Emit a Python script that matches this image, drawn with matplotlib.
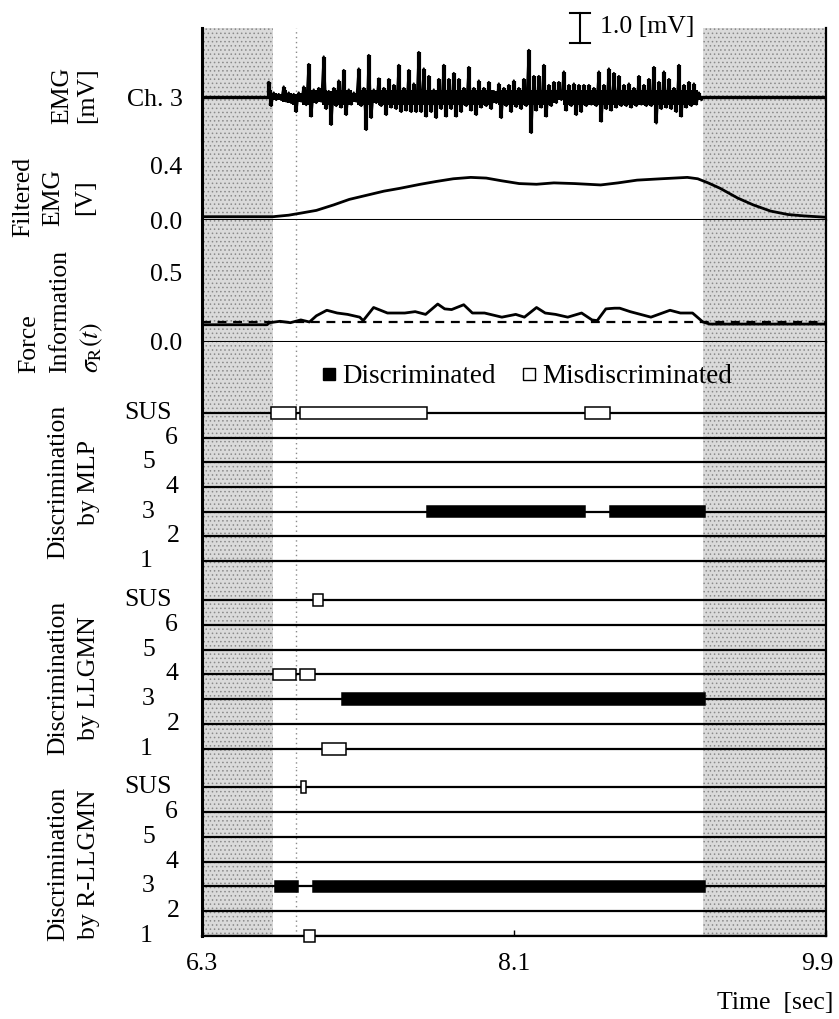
import numpy as np
import matplotlib.pyplot as plt
from matplotlib.lines import Line2D
from matplotlib.transforms import blended_transform_factory, ScaledTranslation

plt.rcParams['font.family'] = ['Liberation Serif', 'DejaVu Serif']
plt.rcParams['mathtext.fontset'] = 'stix'
plt.rcParams['hatch.linewidth'] = 0.6

# time axis [sec]
x_ticks = [6.3, 8.1, 9.9]
rest_spans = [(6.3, 6.71), (9.19, 9.9)]
marker_t = 6.84

# raw EMG ch.3 [mV]: upper / lower excursion of each sample
emg_on, emg_off = 6.692, 9.174
emg_hi = [0.5, 0.15, 0.1, 0.35, 0.15, 0.1, 0.15, 0.35, 1.1, 0.25,
          0.3, 1.35, 0.2, 0.3, 0.55, 0.9, 0.25, 0.15, 0.95, 0.3,
          1.4, 0.25, 0.62, 0.3, 0.6, 0.4, 1.07, 0.3, 0.9, 0.45,
          1.5, 0.95, 0.7, 0.25, 0.6, 1.07, 0.6, 0.8, 0.6, 0.3,
          1.0, 0.3, 0.55, 0.3, 0.5, 0.2, 0.45, 0.3, 0.4, 0.55,
          0.3, 0.6, 1.57, 0.7, 0.7, 1.07, 0.4, 0.5, 0.5, 0.85,
          0.4, 0.45, 0.4, 0.4, 0.4, 0.3, 0.85, 0.4, 0.95, 0.8,
          0.7, 0.4, 0.45, 0.3, 0.7, 0.4, 0.6, 1.0, 0.5, 0.85,
          0.6, 0.3, 1.07, 0.4, 0.5, 0.45, 0.15]
emg_lo = [-0.3, -0.1, -0.1, -0.15, -0.2, -0.5, -0.15, -0.27, -0.65, -0.2,
          -0.15, -0.4, -0.93, -0.3, -0.35, -0.6, -0.25, -0.15, -0.3, -1.1,
          -0.7, -0.2, -0.3, -0.6, -0.35, -0.4, -0.5, -0.45, -0.5, -0.5,
          -0.5, -0.65, -0.5, -0.7, -0.4, -0.65, -0.4, -0.65, -0.5, -0.3,
          -0.45, -0.6, -0.35, -0.3, -0.4, -0.2, -0.7, -0.3, -0.5, -0.33,
          -0.4, -0.3, -1.2, -0.45, -0.35, -0.65, -0.3, -0.2, -0.1, -0.45,
          -0.3, -0.6, -0.5, -0.3, -0.25, -0.3, -0.82, -0.4, -0.45, -0.35,
          -0.3, -0.3, -0.35, -0.3, -0.25, -0.3, -0.3, -0.88, -0.4, -0.35,
          -0.4, -0.5, -0.65, -0.35, -0.3, -0.25, -0.1]

# filtered EMG [V]
filt_t = [6.30, 6.71, 6.80, 6.87, 6.96, 7.06, 7.15, 7.25, 7.35, 7.44, 7.56, 7.65,
          7.75, 7.85, 7.94, 8.03, 8.13, 8.23, 8.33, 8.45, 8.60, 8.70, 8.81, 8.95,
          9.10, 9.16, 9.22, 9.29, 9.39, 9.48, 9.58, 9.68, 9.77, 9.90]
filt_v = [0.024, 0.024, 0.035, 0.05, 0.07, 0.11, 0.15, 0.18, 0.21, 0.23, 0.26, 0.28,
          0.30, 0.31, 0.305, 0.285, 0.265, 0.26, 0.27, 0.265, 0.255, 0.27, 0.29, 0.30,
          0.31, 0.30, 0.27, 0.23, 0.16, 0.11, 0.065, 0.04, 0.03, 0.02]

# force information sigma_R(t) and its threshold
force_t = [6.30, 6.675, 6.69, 6.75, 6.81, 6.87, 6.92, 6.96, 7.02, 7.08, 7.14, 7.21,
           7.23, 7.29, 7.37, 7.47, 7.53, 7.59, 7.66, 7.70, 7.74, 7.81, 7.86, 7.93,
           8.03, 8.11, 8.16, 8.23, 8.28, 8.34, 8.41, 8.49, 8.55, 8.58, 8.63, 8.68,
           8.71, 8.77, 8.89, 9.00, 9.06, 9.13, 9.19, 9.23, 9.42, 9.90]
force_v = [0.125, 0.125, 0.14, 0.15, 0.14, 0.16, 0.145, 0.19, 0.23, 0.21, 0.20, 0.18,
           0.155, 0.25, 0.21, 0.21, 0.22, 0.20, 0.275, 0.24, 0.235, 0.27, 0.21, 0.21,
           0.18, 0.20, 0.18, 0.25, 0.21, 0.20, 0.18, 0.21, 0.16, 0.155, 0.24, 0.245,
           0.245, 0.22, 0.18, 0.23, 0.21, 0.21, 0.145, 0.13, 0.13, 0.13]
force_thr = 0.145

classes = ['1', '2', '3', '4', '5', '6', 'SUS']
# (class, start, end, discriminated correctly)
mlp_seg = [('SUS', 6.70, 6.84, False), ('SUS', 6.865, 7.60, False),
           ('3', 7.60, 8.51, True), ('SUS', 8.51, 8.655, False),
           ('3', 8.655, 9.20, True)]
llgmn_seg = [('4', 6.71, 6.84, False), ('4', 6.865, 6.95, False),
             ('SUS', 6.94, 7.00, False), ('1', 6.99, 7.13, False),
             ('3', 7.11, 9.20, True)]
rllgmn_seg = [('3', 6.72, 6.855, True), ('SUS', 6.87, 6.90, False),
              ('1', 6.89, 6.95, False), ('3', 6.94, 9.20, True)]

W, H = 839, 1019
fig = plt.figure(figsize=(W / 100, H / 100), dpi=100)
fs = 18.5
L, R = 202, 826


def add_ax(top, bottom, ylim):
    ax = fig.add_axes([L / W, 1 - bottom / H, (R - L) / W, (bottom - top) / H])
    ax.set_xlim(6.3, 9.9)
    ax.set_ylim(*ylim)
    ax.set_xticks([])
    ax.spines['top'].set_visible(False)
    ax.spines['bottom'].set_visible(False)
    ax.spines['left'].set_linewidth(2.2)
    ax.spines['right'].set_linewidth(1.6)
    ax.tick_params(axis='y', length=0, pad=14, labelsize=fs)
    for a, b in rest_spans:
        ax.axvspan(a, b, facecolor='#dadada', edgecolor='#8a8a8a', hatch='....',
                   lw=0, zorder=0)
    ax.axvline(marker_t, color='#8a8a8a', ls=(0, (1, 2.5)), lw=1, zorder=1)
    return ax


ax_emg = add_ax(28, 140, (-1.433, 2.3))
ax_filt = add_ax(140, 220, (0, 0.582))
ax_force = add_ax(220, 342, (0, 0.884))
ax_mlp = add_ax(342, 580, (-0.77, 8.87))
ax_ll = add_ax(580, 768, (-0.765, 6.8))
ax_rl = add_ax(768, 936, (0, 6.77))

# raw EMG
n = len(emg_hi)
emg_t = np.linspace(emg_on, emg_off, n)
dt = emg_t[1] - emg_t[0]
tt = np.column_stack([emg_t - dt / 4, emg_t + dt / 4]).ravel()
vv = np.column_stack([emg_hi, emg_lo]).ravel()
ax_emg.axhline(0, color='k', lw=2.4, zorder=2)
ax_emg.plot(tt, vv, color='k', lw=1.6, zorder=3)
ax_emg.vlines(emg_t - dt / 4, 0, emg_hi, color='k', lw=3, zorder=3)
ax_emg.vlines(emg_t + dt / 4, emg_lo, 0, color='k', lw=3, zorder=3)
ax_emg.fill_between(emg_t, np.maximum(emg_lo, -0.25), np.minimum(emg_hi, 0.25),
                    step='mid', color='k', lw=0, zorder=3)
ax_emg.set_yticks([0], ['Ch. 3'])
# 1.0 mV scale bar
sb_t = 8.48
ax_emg.plot([sb_t, sb_t], [1.8, 2.8], color='k', lw=1.5, clip_on=False)
for yy in (1.8, 2.8):
    ax_emg.plot([sb_t - 0.058, sb_t + 0.058], [yy, yy], color='k', lw=1.5, clip_on=False)
ax_emg.text(sb_t + 0.115, 2.33, '1.0 [mV]', fontsize=fs, ha='left', va='center')

# filtered EMG
ax_filt.axhline(0, color='k', lw=2.2, zorder=2)
ax_filt.plot(filt_t, filt_v, color='k', lw=2, zorder=3)
ax_filt.set_yticks([0.0, 0.4], ['0.0', '0.4'])

# force information
ax_force.axhline(0, color='k', lw=2.2, zorder=2)
ax_force.axhline(force_thr, color='k', lw=1.6, ls=(0, (4, 3)), zorder=2)
ax_force.plot(force_t, force_v, color='k', lw=2, zorder=3)
ax_force.set_yticks([0.0, 0.5], ['0.0', '0.5'])

# discrimination results
label_right = [153, 180, 155, 178, 155, 178, 172]
for ax, segs in [(ax_mlp, mlp_seg), (ax_ll, llgmn_seg), (ax_rl, rllgmn_seg)]:
    ax.set_yticks([])
    for i in range(len(classes)):
        ax.axhline(i, color='k', lw=1.6, zorder=2)
    for cls, t0, t1, ok in segs:
        ax.barh(classes.index(cls), t1 - t0, left=t0, height=0.47,
                color='k' if ok else 'white', edgecolor='k', lw=1.1,
                zorder=3, clip_on=False)
    tr = blended_transform_factory(fig.transFigure, ax.transData)
    for i, c in enumerate(classes):
        ax.text(label_right[i] / W, i, c, transform=tr, ha='right', va='center',
                fontsize=fs)

handles = [Line2D([], [], marker='s', ls='none', mfc='k', mec='k', ms=9),
           Line2D([], [], marker='s', ls='none', mfc='white', mec='k', ms=9, mew=1)]
ax_mlp.legend(handles, ['Discriminated', 'Misdiscriminated'], ncol=2, frameon=False,
              loc='center', bbox_to_anchor=(0.52, 0.853), fontsize=19.5,
              handlelength=0.6, handletextpad=0.2, columnspacing=0.9,
              borderpad=0, borderaxespad=0)

# bottom axis
ax_rl.spines['bottom'].set_visible(True)
ax_rl.spines['bottom'].set_linewidth(1.6)
ax_rl.set_xticks(x_ticks, ['6.3', '8.1', '9.9'])
ax_rl.tick_params(axis='x', direction='in', length=4, width=1, pad=12, labelsize=fs)
last = ax_rl.get_xticklabels()[-1]
last.set_transform(last.get_transform() + ScaledTranslation(-9 / 100, 0, fig.dpi_scale_trans))


# section labels (x pixel, text) rotated
def side_label(lines, y, va='center'):
    for x, s in lines:
        fig.text(x / W, 1 - y / H, s, rotation=90, ha='center', va=va, fontsize=fs)


side_label([(62, 'EMG'), (87, '[mV]')], 95)
side_label([(23, 'Filtered'), (53, 'EMG'), (85, '[V]')], 197)
side_label([(29, 'Force'), (60, 'Information'), (92, r'$\sigma_{\rm R}(t)$')], 373, va='bottom')
side_label([(58, 'Discrimination'), (89, 'by MLP')], 482)
side_label([(58, 'Discrimination'), (89, 'by LLGMN')], 678)
side_label([(58, 'Discrimination'), (89, 'by R-LLGMN')], 864)

fig.text(833 / W, 1 - 1003 / H, 'Time  [sec]', ha='right', va='center', fontsize=fs)

fig.savefig('out.png', dpi=100)
